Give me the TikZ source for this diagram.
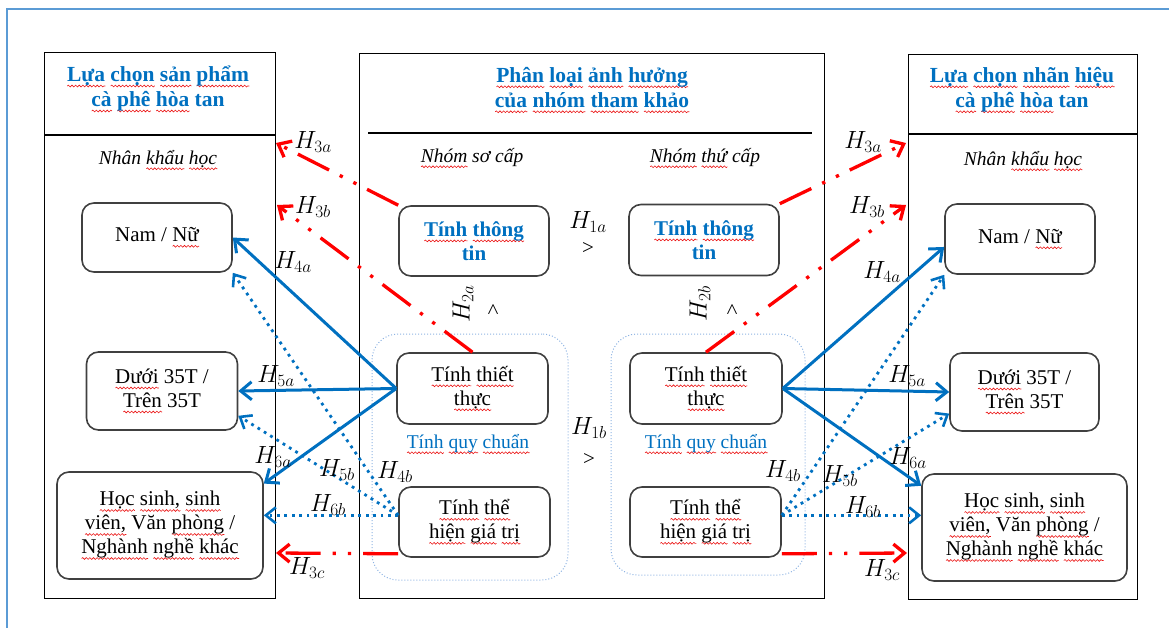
\documentclass[tikz,border=0pt]{standalone}
\usepackage{fontspec}
\setmainfont{Liberation Serif}
\usetikzlibrary{arrows.meta,calc,decorations.pathmorphing}

\definecolor{arrblue}{RGB}{0,112,192}
\definecolor{txtblue}{RGB}{0,112,192}
\definecolor{boxgray}{RGB}{64,64,64}
\definecolor{grpblue}{RGB}{141,179,226}
\definecolor{framecol}{RGB}{91,155,213}
\definecolor{sqred}{RGB}{235,20,20}

% red wavy underline (spell-check marks under words)
\newsavebox\sqbox
\newlength\sqwd
\newcommand\sq[1]{\leavevmode\sbox\sqbox{#1}\setlength\sqwd{\wd\sqbox}%
  \rlap{\tikz[baseline=0pt]{\draw[sqred, solid, sharp corners, line width=0.6pt, decorate,
      decoration={snake, amplitude=0.9pt, segment length=3.6pt}]
      (0pt,-4.6pt) -- (\sqwd,-4.6pt);}}\usebox\sqbox\relax}

\newcommand\bodyf{\fontsize{21}{24}\selectfont}
\newcommand\titlef{\fontsize{21.5}{25}\selectfont\bfseries}
\newcommand\itf{\fontsize{19.5}{23}\selectfont\itshape}
\newcommand\hf{\fontsize{24}{26}\selectfont}

\tikzset{
  panel/.style={draw=black, line width=1.4pt, rectangle, inner sep=0pt},
  panelline/.style={draw=black, line width=1.4pt},
  cbox/.style={draw=boxgray, line width=1.6pt, rectangle, rounded corners=12pt,
    align=center, inner sep=0pt, font=\bodyf},
  grp/.style={draw=grpblue, line width=1pt, dotted, rectangle, rounded corners=26pt, inner sep=0pt},
  ttl/.style={align=center, inner sep=0pt, font=\titlef, text=txtblue},
  ital/.style={inner sep=0pt, font=\itf},
  blu/.style={inner sep=0pt, font=\fontsize{19.5}{23}\selectfont, text=txtblue},
  hlab/.style={inner sep=0pt, font=\hf},
  solidarr/.style={draw=arrblue, line width=3pt,
    -{Straight Barb[length=11pt,width=18pt,line width=3pt]}},
  dotarr/.style={draw=arrblue, line width=2.8pt, dash pattern=on 2.8pt off 4.6pt,
    -{Straight Barb[length=10pt,width=16pt,line width=2.6pt]}},
  redarr/.style={draw=red, line width=3.3pt,
    dash pattern=on 35pt off 12pt on 3.3pt off 12pt on 3.3pt off 12pt,
    -{Straight Barb[length=11pt,width=18pt,line width=3.3pt]}},
}

\begin{document}
\begin{tikzpicture}[x=1pt,y=-1pt]
\useasboundingbox (0,0) rectangle (1169,628);

% outer frame
\draw[framecol, line width=2pt] (7,628) -- (7,9) -- (1169,9);

% three panels
\node[panel, anchor=north west, minimum width=231pt, minimum height=546pt] (Lp) at (44,52) {};
\node[panel, anchor=north west, minimum width=465pt, minimum height=545pt] (Mp) at (359,53) {};
\node[panel, anchor=north west, minimum width=229pt, minimum height=545pt] (Rp) at (908,54) {};
\draw[panelline] (44,135) -- (275,135);
\draw[panelline] (368,133) -- (812,133);
\draw[panelline] (908,134) -- (1137,134);

% panel headings
\node[ttl] (LT) at (158,89) {\sq{Lựa} \sq{chọn} \sq{sản} \sq{phẩm}\\\sq{cà} \sq{phê} \sq{hòa} tan};
\node[ttl] (MT) at (592,90) {\sq{Phân} \sq{loại} \sq{ảnh} \sq{hưởng}\\\sq{của} \sq{nhóm} \sq{tham} \sq{khảo}};
\node[ttl] (RT) at (1022,90) {\sq{Lựa} \sq{chọn} \sq{nhãn} \sq{hiệu}\\\sq{cà} \sq{phê} \sq{hòa} tan};

\node[ital] (LD) at (158,160) {Nhân \sq{khẩu} \sq{học}};
\node[ital] (RD) at (1023,161) {Nhân \sq{khẩu} \sq{học}};
\node[ital] (G1) at (472,158) {\sq{Nhóm} sơ cấp};
\node[ital] (G2) at (705,158) {\sq{Nhóm} \sq{thứ} cấp};

% groups of normative influence
\node[grp, minimum width=196pt, minimum height=246pt] (GL) at (470,457) {};
\node[grp, minimum width=194pt, minimum height=241pt] (GR) at (708,454.5) {};
\node[blu] (QL) at (468,444) {\sq{Tính} \sq{quy} \sq{chuẩn}};
\node[blu] (QR) at (706,444) {\sq{Tính} \sq{quy} \sq{chuẩn}};

% left demographic boxes
\node[cbox, minimum width=150pt, minimum height=69pt] (NamL) at (157,237.5) {Nam / \sq{Nữ}};
\node[cbox, minimum width=151pt, minimum height=78pt] (DuoiL) at (162,391) {\sq{Dưới} 35T /\\\sq{Trên} 35T};
\node[cbox, minimum width=206pt, minimum height=107pt] (HSL) at (160,525.5)
  {\sq{Học} \sq{sinh,} \sq{sinh}\\\sq{viên,} Văn \sq{phòng} /\\\sq{Nghành} \sq{nghề} \sq{khác}};

% right demographic boxes
\node[cbox, minimum width=150pt, minimum height=70pt] (NamR) at (1020,239) {Nam / \sq{Nữ}};
\node[cbox, minimum width=149pt, minimum height=78pt] (DuoiR) at (1024.5,392) {\sq{Dưới} 35T /\\\sq{Trên} 35T};
\node[cbox, minimum width=205pt, minimum height=107pt] (HSR) at (1024.5,527.5)
  {\sq{Học} \sq{sinh,} \sq{sinh}\\\sq{viên,} Văn \sq{phòng} /\\\sq{Nghành} \sq{nghề} \sq{khác}};

% influence boxes
\node[cbox, minimum width=150pt, minimum height=70pt, font=\bodyf\bfseries, text=txtblue] (TTl) at (474,241) {\sq{Tính} \sq{thông}\\tin};
\node[cbox, minimum width=150pt, minimum height=71pt, font=\bodyf\bfseries, text=txtblue] (TTr) at (704,240) {\sq{Tính} \sq{thông}\\tin};
\node[cbox, minimum width=151pt, minimum height=71pt] (TTTl) at (472.5,388.5) {\sq{Tính} \sq{thiết}\\\sq{thực}};
\node[cbox, minimum width=152pt, minimum height=71pt] (TTTr) at (706,388.5) {\sq{Tính} \sq{thiết}\\\sq{thực}};
\node[cbox, minimum width=151pt, minimum height=70pt] (TTHl) at (474.5,522) {\sq{Tính} \sq{thể}\\\sq{hiện} \sq{giá} \sq{trị}};
\node[cbox, minimum width=151pt, minimum height=70pt] (TTHr) at (705.5,522) {\sq{Tính} \sq{thể}\\\sq{hiện} \sq{giá} \sq{trị}};

% comparison marks between primary and secondary groups
\node[hlab] (H1a) at (588,222) {$H_{1a}$};
\node[hlab, font=\bodyf] (G1a) at (588,248) {>};
\node[hlab] (H1b) at (589,428) {$H_{1b}$};
\node[hlab, font=\bodyf] (G1b) at (589,459) {>};
\node[hlab, rotate=90] (H2a) at (463,304) {$H_{2a}$};
\node[hlab, rotate=90, font=\bodyf] (G2a) at (494,310) {>};
\node[hlab, rotate=90] (H2b) at (700,304) {$H_{2b}$};
\node[hlab, rotate=90, font=\bodyf] (G2b) at (733,310) {>};

% free ends of the red arrows, just outside the side panels
\coordinate (h3aL) at (276,143);
\coordinate (h3bL) at (277,205);
\coordinate (h3cL) at (276,553);
\coordinate (h3aR) at (906,143);
\coordinate (h3bR) at (906,205);
\coordinate (h3cR) at (907,553);

% left side connectors
\draw[solidarr] (TTTl.west) -- (NamL.east);
\draw[solidarr] (TTTl.west) -- (DuoiL.east);
\draw[solidarr] (TTTl.west) -- (HSL.22);
\draw[dotarr] (TTHl.175) -- (NamL.south east);
\draw[dotarr] (TTHl.175) -- (DuoiL.-18);
\draw[dotarr] (TTHl.175) -- (TTHl.175 -| HSL.east);
\draw[redarr] (TTl.north west) -- (h3aL);
\draw[redarr] (TTTl.north) -- (h3bL);
\draw[redarr] ([yshift=4pt]TTHl.south west) -- (h3cL);

% right side connectors
\draw[solidarr] (TTTr.east) -- (NamR.186);
\draw[solidarr] (TTTr.east) -- (DuoiR.west);
\draw[solidarr] (TTTr.east) -- (HSR.158);
\draw[dotarr] (TTHr.5) -- (NamR.south west);
\draw[dotarr] (TTHr.5) -- (DuoiR.196);
\draw[dotarr] (TTHr.5) -- (TTHr.5 -| HSR.west);
\draw[redarr] (TTr.north east) -- (h3aR);
\draw[redarr] (TTTr.north) -- (h3bR);
\draw[redarr] ([yshift=4pt]TTHr.south east) -- (h3cR);

% hypothesis labels, left
\node[hlab] (L3a) at (313,142) {$H_{3a}$};
\node[hlab] (L3b) at (313,207) {$H_{3b}$};
\node[hlab] (L4a) at (293,262) {$H_{4a}$};
\node[hlab] (L5a) at (276,376) {$H_{5a}$};
\node[hlab] (L6a) at (273,457) {$H_{6a}$};
\node[hlab] (L5b) at (337,470) {$H_{5b}$};
\node[hlab] (L4b) at (395,472) {$H_{4b}$};
\node[hlab] (L6b) at (328,505) {$H_{6b}$};
\node[hlab] (L3c) at (307,568) {$H_{3c}$};

% hypothesis labels, right
\node[hlab] (R3a) at (863,142) {$H_{3a}$};
\node[hlab] (R3b) at (867,207) {$H_{3b}$};
\node[hlab] (R4a) at (882,272) {$H_{4a}$};
\node[hlab] (R5a) at (907,376) {$H_{5a}$};
\node[hlab] (R6a) at (908,458) {$H_{6a}$};
\node[hlab] (R4b) at (783,471) {$H_{4b}$};
\node[hlab] (R5b) at (840,476) {$H_{5b}$};
\node[hlab] (R6b) at (863,507) {$H_{6b}$};
\node[hlab] (R3c) at (882,570) {$H_{3c}$};
\end{tikzpicture}
\end{document}
